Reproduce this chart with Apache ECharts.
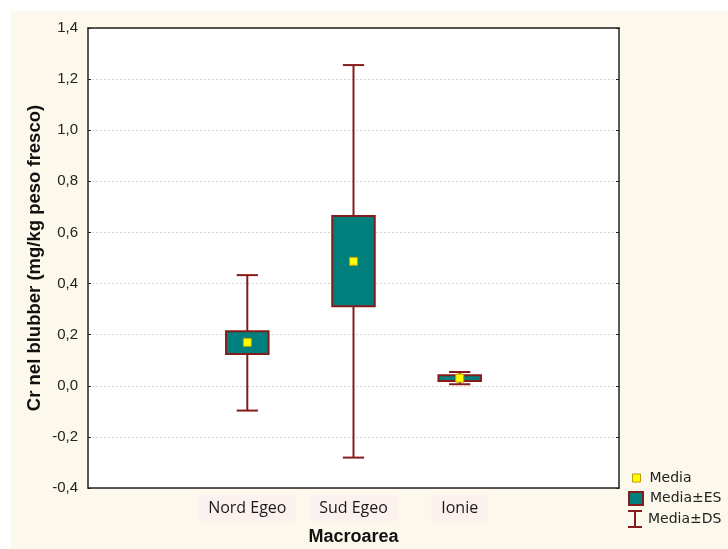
<!DOCTYPE html>
<html>
<head>
<meta charset="utf-8">
<script src="https://cdn.jsdelivr.net/npm/echarts@6/dist/echarts.min.js"></script>
<style>
  html, body { margin: 0; padding: 0; background: #ffffff; }
  #frame { position: absolute; left: 11px; top: 11px; width: 717px; height: 538px; background: #fdf8ec; }
  #chart { position: absolute; left: 0; top: 0; width: 728px; height: 549px; }
</style>
</head>
<body>
<div id="frame"></div>
<div id="chart"></div>
<script>
// Category slots along the x axis (empty slots pad both sides)
const categories = ['', 'Nord Egeo', 'Sud Egeo', 'Ionie', ''];
const groups = ['Nord Egeo', 'Sud Egeo', 'Ionie'];

// Cr in blubber (mg/kg wet weight) per macro-area
const means  = [0.170, 0.487, 0.030];
const seLow  = [0.124, 0.311, 0.019];
const seHigh = [0.213, 0.664, 0.041];
const sdLow  = [-0.097, -0.281, 0.006];
const sdHigh = [0.433, 1.255, 0.054];

// Value axis range
const yMin = -0.4, yMax = 1.4, yStep = 0.2;

const RED = '#851c1c';
const TEAL = '#007f7d';
const AXIS = '#222222';

const fmt = v => (Math.round(v * 10) / 10).toFixed(1).replace('.', ',');

const xIdx = groups.map(g => categories.indexOf(g));
const sdData = groups.map((g, i) => [xIdx[i], sdLow[i], sdHigh[i]]);
const seData = groups.map((g, i) => [xIdx[i], seLow[i], seHigh[i]]);
const meanData = groups.map((g, i) => [xIdx[i], means[i]]);

const chart = echarts.init(document.getElementById('chart'), null, { renderer: 'canvas' });

const legendText = { fontFamily: 'DejaVu Sans', fontSize: 14, color: '#222' };

chart.setOption({
  animation: false,
  grid: {
    left: 88, top: 28, right: 109, bottom: 61,
    outerBoundsMode: 'none', containLabel: false,
    show: true, backgroundColor: '#ffffff', borderWidth: 0
  },
  xAxis: [{
    type: 'category', data: categories, position: 'bottom',
    name: 'Macroarea', nameLocation: 'middle', nameGap: 40, nameMoveOverlap: false,
    nameTextStyle: { fontFamily: 'Liberation Sans', fontWeight: 'bold', fontSize: 18, color: '#111' },
    axisLine: { onZero: false, lineStyle: { color: AXIS, width: 1.5 } },
    axisTick: { inside: true, alignWithLabel: true, interval: 0, length: 3, lineStyle: { color: AXIS } },
    axisLabel: {
      interval: (i, v) => v !== '', margin: 7,
      fontFamily: 'Open Sans', fontSize: 16, color: '#1a1a1a',
      backgroundColor: '#fbf1ee', padding: [5, 10, 5, 10]
    },
    splitLine: { show: false }
  }, {
    type: 'category', data: categories, position: 'top',
    axisLine: { onZero: false, lineStyle: { color: AXIS, width: 1.5 } },
    axisTick: { inside: true, alignWithLabel: true, interval: 0, length: 3, lineStyle: { color: AXIS } },
    axisLabel: { show: false },
    splitLine: { show: false }
  }],
  yAxis: [{
    type: 'value', min: yMin, max: yMax, interval: yStep, position: 'left',
    name: 'Cr nel blubber (mg/kg peso fresco)', nameLocation: 'middle', nameGap: 44, nameMoveOverlap: false,
    nameTextStyle: { fontFamily: 'Liberation Sans', fontWeight: 'bold', fontSize: 18.5, color: '#111' },
    axisLine: { show: true, onZero: false, lineStyle: { color: AXIS, width: 1.5 } },
    axisTick: { show: true, inside: true, length: 3, lineStyle: { color: AXIS } },
    axisLabel: { formatter: fmt, margin: 10, fontFamily: 'Liberation Sans', fontSize: 15, color: '#222' },
    splitLine: { show: true, lineStyle: { color: '#d2d2d2', type: [2, 2], width: 1 } }
  }, {
    type: 'value', min: yMin, max: yMax, interval: yStep, position: 'right',
    axisLine: { show: true, onZero: false, lineStyle: { color: AXIS, width: 1.5 } },
    axisTick: { show: true, inside: true, length: 3, lineStyle: { color: AXIS } },
    axisLabel: { show: false },
    splitLine: { show: false }
  }],
  legend: [{
    data: [{ name: 'Media', icon: 'rect', itemStyle: { color: '#ffff00', borderColor: '#c49a00', borderWidth: 1 } }],
    orient: 'vertical', left: 632, top: 471, padding: 0, itemWidth: 8, itemHeight: 8,
    textStyle: Object.assign({ padding: [0, 0, 0, 4] }, legendText), selectedMode: false
  }, {
    data: [{ name: 'Media±ES', icon: 'rect', itemStyle: { color: TEAL, borderColor: RED, borderWidth: 2 } }],
    orient: 'vertical', left: 628, top: 491, padding: 0, itemWidth: 14, itemHeight: 13,
    textStyle: Object.assign({ padding: [0, 0, 0, 2] }, legendText), selectedMode: false
  }, {
    data: [{ name: 'Media±DS', icon: 'path://M0,0H14V2H8V16H14V18H0V16H6V2H0Z', itemStyle: { color: RED, borderWidth: 0 } }],
    orient: 'vertical', left: 628, top: 510, padding: 0, itemWidth: 14, itemHeight: 18,
    textStyle: Object.assign({ padding: [3, 0, 0, 1] }, legendText), selectedMode: false
  }],
  series: [{
    name: 'Media±DS', type: 'custom', data: sdData,
    encode: { x: 0, y: [1, 2] }, z: 2,
    renderItem: (params, api) => {
      const x = api.value(0);
      const lo = api.coord([x, api.value(1)]);
      const hi = api.coord([x, api.value(2)]);
      const cap = api.size([1, 0])[0] * 0.2;
      const style = { stroke: RED, lineWidth: 2 };
      return {
        type: 'group', children: [
          { type: 'line', shape: { x1: lo[0], y1: lo[1], x2: hi[0], y2: hi[1] }, style },
          { type: 'line', shape: { x1: hi[0] - cap / 2, y1: hi[1], x2: hi[0] + cap / 2, y2: hi[1] }, style },
          { type: 'line', shape: { x1: lo[0] - cap / 2, y1: lo[1], x2: lo[0] + cap / 2, y2: lo[1] }, style }
        ]
      };
    }
  }, {
    name: 'Media±ES', type: 'custom', data: seData,
    encode: { x: 0, y: [1, 2] }, z: 3,
    renderItem: (params, api) => {
      const x = api.value(0);
      const lo = api.coord([x, api.value(1)]);
      const hi = api.coord([x, api.value(2)]);
      const w = api.size([1, 0])[0] * 0.4;
      return {
        type: 'rect',
        shape: { x: hi[0] - w / 2, y: hi[1], width: w, height: lo[1] - hi[1] },
        style: { fill: TEAL, stroke: RED, lineWidth: 2 }
      };
    }
  }, {
    name: 'Media', type: 'scatter', data: meanData, z: 4,
    symbol: 'rect', symbolSize: 8,
    itemStyle: { color: '#ffff00', borderColor: '#c49a00', borderWidth: 1, opacity: 1 }
  }]
});
</script>
</body>
</html>
